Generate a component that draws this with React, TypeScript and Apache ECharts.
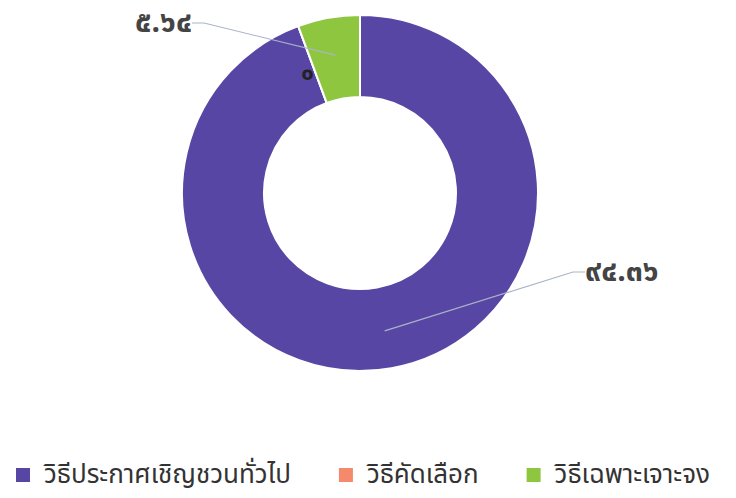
import React, { useEffect, useRef } from "react";
import * as echarts from "echarts";

const categories = ["วิธีประกาศเชิญชวนทั่วไป", "วิธีคัดเลือก", "วิธีเฉพาะเจาะจง"];
const values = [94.36, 0, 5.64];
const colors = ["#5846a4", "#f4896b", "#8fc640"];

const thaiDigits = ["๐", "๑", "๒", "๓", "๔", "๕", "๖", "๗", "๘", "๙"];
const toThai = (v: number) =>
  String(v).replace(/[0-9]/g, (d) => thaiDigits[Number(d)]);

const FONT = "'Noto Sans Thai', 'Noto Sans', 'DejaVu Sans', sans-serif";

export default function App() {
  const ref = useRef<HTMLDivElement>(null);
  useEffect(() => {
    document.body.style.margin = "0";
    const chart = echarts.init(ref.current!, null, { renderer: "svg" });
    const center = [360, 193];
    chart.setOption({
      animation: false,
      backgroundColor: "#ffffff",
      color: colors,
      legend: {
        bottom: 10,
        left: 14,
        width: 722,
        padding: 0,
        itemWidth: 16,
        itemHeight: 16,
        itemGap: 46,
        icon: "rect",
        textStyle: {
          fontSize: 26,
          color: "#333",
          fontFamily: FONT,
          padding: [0, 0, 0, 8],
        },
        data: categories,
      },
      series: [
        {
          type: "pie",
          z: 2,
          center,
          radius: [96, 178],
          startAngle: 90,
          clockwise: true,
          avoidLabelOverlap: false,
          itemStyle: { borderColor: "#fff", borderWidth: 2 },
          label: { show: false },
          labelLine: { show: false },
          data: categories.map((name, i) => ({
            name,
            value: values[i],
            label:
              values[i] === 0
                ? {
                    show: true,
                    position: "inside",
                    fontSize: 22,
                    fontWeight: "bold",
                    color: "#222",
                    fontFamily: FONT,
                    offset: [-4, 12],
                    formatter: (p: any) => toThai(p.value),
                  }
                : undefined,
          })),
        },
        {
          type: "pie",
          z: 6,
          center,
          radius: [0, 140],
          startAngle: 90,
          clockwise: true,
          silent: true,
          avoidLabelOverlap: false,
          itemStyle: { color: "rgba(0,0,0,0)", borderWidth: 0 },
          label: {
            show: true,
            fontSize: 30,
            fontWeight: "bold",
            color: "#444",
            fontFamily: FONT,
            formatter: (p: any) => toThai(p.value),
          },
          labelLine: {
            show: true,
            length: 20,
            length2: 12,
            lineStyle: { color: "#aab4c8", width: 1.2 },
          },
          labelLayout: (p: any) => {
            if (p.dataIndex === 0) return { x: 585, y: 272, align: "left", verticalAlign: "middle" };
            if (p.dataIndex === 2) return { x: 192, y: 23, align: "right", verticalAlign: "middle" };
            return {};
          },
          data: categories.map((name, i) => ({
            name,
            value: values[i],
            label: values[i] === 0 ? { show: false } : undefined,
            labelLine: values[i] === 0 ? { show: false } : undefined,
          })),
        },
      ],
    });
    return () => chart.dispose();
  }, []);
  return <div ref={ref} style={{ width: 736, height: 498 }} />;
}
